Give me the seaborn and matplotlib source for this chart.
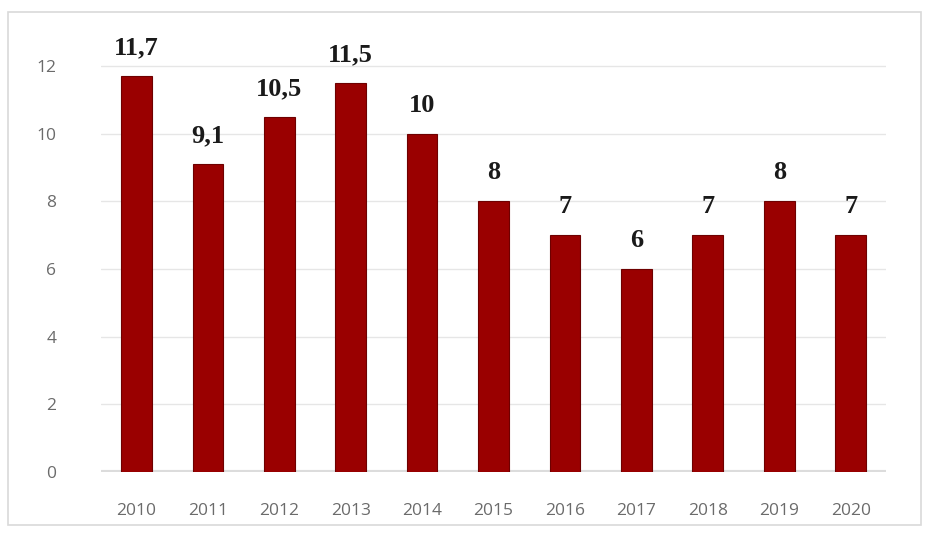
import matplotlib
matplotlib.use("Agg")
import matplotlib.pyplot as plt
import matplotlib.patches as patches
import seaborn as sns
import pandas as pd

years = ["2010", "2011", "2012", "2013", "2014", "2015", "2016", "2017", "2018", "2019", "2020"]
values = [11.7, 9.1, 10.5, 11.5, 10, 8, 7, 6, 7, 8, 7]
value_labels = ["11,7", "9,1", "10,5", "11,5", "10", "8", "7", "6", "7", "8", "7"]
yticks = [0, 2, 4, 6, 8, 10, 12]

df = pd.DataFrame({"year": years, "value": values})

sns.set_style("white")
plt.rcParams["font.family"] = ["Open Sans", "DejaVu Sans"]

fig = plt.figure(figsize=(9.33, 5.37), dpi=100)
ax = fig.add_axes([0.108, 0.121, 0.842, 0.819])

# light frame around the chart area
fig.patches.append(patches.Rectangle((0.009, 0.022), 0.978, 0.955, transform=fig.transFigure,
                                     fill=False, edgecolor="#d9d9d9", linewidth=1.2))

sns.barplot(data=df, x="year", y="value", color="#9a0000", width=0.43,
            edgecolor="#6e0000", linewidth=0.8, saturation=1, ax=ax, zorder=3)

for i, (v, lab) in enumerate(zip(values, value_labels)):
    ax.text(i, v + 0.5, lab, ha="center", va="bottom", fontsize=19, fontweight="bold",
            family="Liberation Serif", color="#1a1a1a")

ax.set_ylim(0, 13)
ax.set_xlim(-0.5, 10.5)
ax.set_yticks(yticks)
ax.yaxis.grid(True, color="#e6e6e6", linewidth=1)
ax.set_axisbelow(True)
ax.set_xlabel("")
ax.set_ylabel("")
for s in ax.spines.values():
    s.set_visible(False)
ax.axhline(0, color="#dcdcdc", linewidth=3, zorder=1)
ax.tick_params(axis="x", pad=22, labelsize=12.5, labelcolor="#6b6b6b", length=0)
ax.tick_params(axis="y", pad=32, labelsize=12.5, labelcolor="#6b6b6b", length=0)

fig.savefig("out.png", dpi=100)
